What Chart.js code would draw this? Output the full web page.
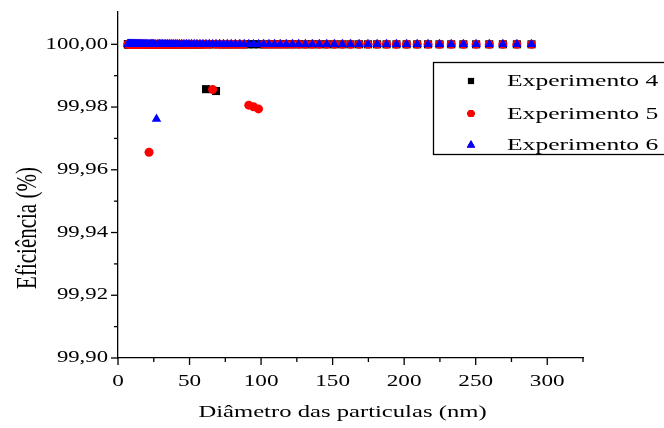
<!DOCTYPE html>
<html>
<head>
<meta charset="utf-8">
<script src="https://cdn.jsdelivr.net/npm/chart.js@4.4.1/dist/chart.umd.min.js"></script>
<style>
html,body{margin:0;padding:0;background:#fff;}
canvas{display:block;}
</style>
</head>
<body>
<canvas id="c" width="664" height="428"></canvas>
<script>
// Particle diameters (nm) of the measured channels
const diameters = [
  6.85, 7.10, 7.37, 7.64, 7.91, 8.20, 8.51, 8.82, 9.14, 9.47,
  9.82, 10.2, 10.6, 10.9, 11.3, 11.8, 12.2, 12.6, 13.1, 13.6,
  14.1, 14.6, 15.1, 15.7, 16.3, 16.8, 17.5, 18.1, 18.8, 19.5,
  20.2, 20.9, 21.7, 22.5, 23.3, 24.1, 25.0, 25.9, 26.9, 27.9,
  28.9, 30.0, 31.1, 32.2, 33.4, 34.6, 35.9, 37.2, 38.5, 40.0,
  41.4, 42.9, 44.5, 46.1, 47.8, 49.6, 51.4, 53.3, 55.2, 57.3,
  59.4, 61.5, 63.8, 66.1, 68.5, 71.0, 73.7, 76.4, 79.1, 82.0,
  85.1, 88.2, 91.4, 94.7, 98.2, 101.8, 105.5, 109.4, 113.4, 117.6,
  121.9, 126.3, 131.0, 135.8, 140.7, 145.9, 151.2, 156.8, 162.5, 168.5,
  174.7, 181.1, 187.7, 194.6, 201.7, 209.1, 216.7, 224.7, 232.9, 241.4,
  250.3, 259.5, 269.0, 278.8, 289.0
];
// Efficiency (%) per channel
const experimento4 = [
  100, 100, 100, 100, 100, 100, 100, 100, 100, 100,
  100, 100, 100, 100, 100, 100, 100, 100, 100, 100,
  100, 100, 100, 100, 100, 100, 100, 100, 100, 100,
  100, 100, 100, 100, 100, 100, 100, 100, 100, 100,
  100, 100, 100, 100, 100, 100, 100, 100, 100, 100,
  100, 100, 100, 100, 100, 100, 100, 100, 100, 100,
  100, 99.9857, 100, 100, 99.9851, 100, 100, 100, 100, 100,
  100, 100, 100, 100, 100, 100, 100, 100, 100, 100,
  100, 100, 100, 100, 100, 100, 100, 100, 100, 100,
  100, 100, 100, 100, 100, 100, 100, 100, 100, 100,
  100, 100, 100, 100, 100
];
const experimento5 = [
  100, 100, 100, 100, 100, 100, 100, 100, 100, 100,
  100, 100, 100, 100, 100, 100, 100, 100, 100, 100,
  100, 100, 100, 100, 100, 100, 100, 100, 100, 100,
  100, 100, 99.9656, 100, 100, 100, 100, 100, 100, 100,
  100, 100, 100, 100, 100, 100, 100, 100, 100, 100,
  100, 100, 100, 100, 100, 100, 100, 100, 100, 100,
  100, 100, 100, 99.9856, 100, 100, 100, 100, 100, 100,
  100, 100, 99.9806, 99.9801, 99.9794, 100, 100, 100, 100, 100,
  100, 100, 100, 100, 100, 100, 100, 100, 100, 100,
  100, 100, 100, 100, 100, 100, 100, 100, 100, 100,
  100, 100, 100, 100, 100
];
const experimento6 = [
  100, 100, 100, 100, 100, 100, 100, 100, 100, 100,
  100, 100, 100, 100, 100, 100, 100, 100, 100, 100,
  100, 100, 100, 100, 100, 100, 100, 100, 100, 100,
  100, 100, 100, 100, 100, 100, 100, 100, 99.9762, 100,
  100, 100, 100, 100, 100, 100, 100, 100, 100, 100,
  100, 100, 100, 100, 100, 100, 100, 100, 100, 100,
  100, 100, 100, 100, 100, 100, 100, 100, 100, 100,
  100, 100, 100, 100, 100, 100, 100, 100, 100, 100,
  100, 100, 100, 100, 100, 100, 100, 100, 100, 100,
  100, 100, 100, 100, 100, 100, 100, 100, 100, 100,
  100, 100, 100, 100, 100
];
const seriesNames = ['Experimento 4', 'Experimento 5', 'Experimento 6'];
const xTickValues = [0, 50, 100, 150, 200, 250, 300];
const xTickLabels = ['0', '50', '100', '150', '200', '250', '300'];
const xMinorTicks = [25, 75, 125, 175, 225, 275, 325];
const yTickValues = [99.90, 99.92, 99.94, 99.96, 99.98, 100.00];
const yTickLabels = ['99,90', '99,92', '99,94', '99,96', '99,98', '100,00'];
const yMinorTicks = [99.91, 99.93, 99.95, 99.97, 99.99];
const xTitle = 'Diâmetro das particulas (nm)';
const yTitle = 'Eficiência (%)';

function pts(vals) { return diameters.map((d, i) => ({x: d, y: vals[i]})); }

const FONT = '"Liberation Serif", "Times New Roman", serif';

function stretchText(ctx, s, x, y, align, size, sx) {
  ctx.save();
  ctx.translate(x, y);
  ctx.scale(sx, 1);
  ctx.font = size + 'px ' + FONT;
  ctx.textAlign = align;
  ctx.textBaseline = 'middle';
  ctx.fillStyle = '#000';
  ctx.fillText(s, 0, 0);
  ctx.restore();
}

const decor = {
  id: 'decor',
  afterDraw(chart) {
    const ctx = chart.ctx;
    const xs = chart.scales.x, ys = chart.scales.y;
    const area = chart.chartArea;
    ctx.save();
    ctx.strokeStyle = '#000';
    ctx.lineWidth = 1.3;
    // x ticks
    xTickValues.forEach((v, i) => {
      const px = xs.getPixelForValue(v);
      ctx.beginPath(); ctx.moveTo(px, area.bottom); ctx.lineTo(px, area.bottom + 7); ctx.stroke();
      stretchText(ctx, xTickLabels[i], px, area.bottom + 24, 'center', 16, 1.45);
    });
    xMinorTicks.forEach(v => {
      const px = xs.getPixelForValue(v);
      ctx.beginPath(); ctx.moveTo(px, area.bottom); ctx.lineTo(px, area.bottom + 4); ctx.stroke();
    });
    // y ticks
    yTickValues.forEach((v, i) => {
      const py = ys.getPixelForValue(v);
      ctx.beginPath(); ctx.moveTo(area.left, py); ctx.lineTo(area.left - 7, py); ctx.stroke();
      stretchText(ctx, yTickLabels[i], area.left - 10, py, 'right', 16, 1.42);
    });
    yMinorTicks.forEach(v => {
      const py = ys.getPixelForValue(v);
      ctx.beginPath(); ctx.moveTo(area.left, py); ctx.lineTo(area.left - 4, py); ctx.stroke();
    });
    // axis titles
    stretchText(ctx, xTitle, (area.left + area.right) / 2 - 8, area.bottom + 55, 'center', 17, 1.45);
    ctx.save();
    ctx.translate(28, 228);
    ctx.rotate(-Math.PI / 2);
    ctx.scale(1, 1.4);
    ctx.font = '21px ' + FONT;
    ctx.textAlign = 'center';
    ctx.textBaseline = 'middle';
    ctx.fillStyle = '#000';
    ctx.fillText(yTitle, 0, 0);
    ctx.restore();
    // legend
    const lx = 433.5, ly = 62.5, lw = 260, lh = 92;
    ctx.lineWidth = 1.3;
    ctx.strokeStyle = '#000';
    ctx.strokeRect(lx, ly, lw, lh);
    const rows = [81, 113.5, 145];
    chart.data.datasets.forEach((ds, i) => {
      const y = rows[i];
      const r = ds.pointStyle === 'rect' ? 4.3 : (ds.pointStyle === 'triangle' ? 4.8 : 3.6);
      Chart.helpers.drawPoint(ctx, {pointStyle: ds.pointStyle, radius: r, borderWidth: 0, rotation: 0}, 471, y);
      ctx.fillStyle = ds.backgroundColor;
      ctx.beginPath();
      Chart.helpers.drawPoint(ctx, {pointStyle: ds.pointStyle, radius: r, borderWidth: 0, rotation: 0}, 471, y);
      ctx.fill();
      stretchText(ctx, seriesNames[i], 507, y + 1, 'left', 16.5, 1.55);
    });
    ctx.restore();
  }
};

const colors = ['#000000', '#ff0000', '#0000ff'];
const styles = ['rect', 'circle', 'triangle'];
const radii = [5.7, 4.5, 5.5];
const seriesData = [experimento4, experimento5, experimento6];

new Chart(document.getElementById('c'), {
  type: 'scatter',
  data: {
    datasets: seriesData.map((vals, i) => ({
      label: seriesNames[i],
      data: pts(vals),
      pointStyle: styles[i],
      pointRadius: radii[i],
      pointHoverRadius: radii[i],
      backgroundColor: colors[i],
      borderColor: colors[i],
      borderWidth: 0,
      order: 3 - i
    }))
  },
  options: {
    responsive: false,
    animation: false,
    events: [],
    layout: { padding: { left: 118, right: 81, top: 12, bottom: 70 } },
    plugins: { legend: { display: false }, tooltip: { enabled: false } },
    scales: {
      x: {
        type: 'linear', min: 0, max: 325,
        grid: { display: false, drawTicks: false },
        ticks: { display: false },
        border: { display: true, color: '#000', width: 1.3 }
      },
      y: {
        type: 'linear', min: 99.9, max: 100.0103,
        grid: { display: false, drawTicks: false },
        ticks: { display: false },
        border: { display: true, color: '#000', width: 1.3 }
      }
    }
  },
  plugins: [decor]
});
</script>
</body>
</html>
